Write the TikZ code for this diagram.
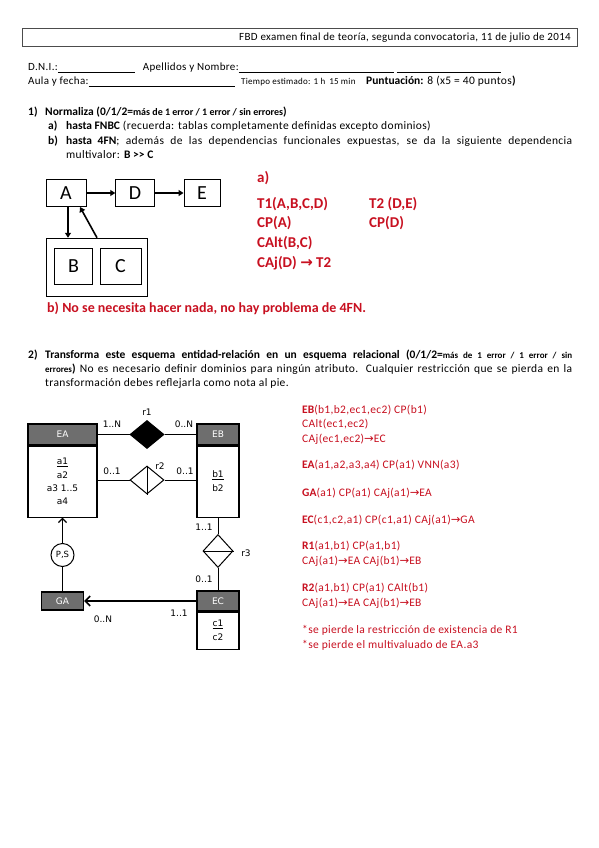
\documentclass[tikz,border=0pt]{standalone}
\usepackage{fontspec}
\setmainfont{Carlito}[UprightFeatures={LetterSpace=3}]
\newfontfamily\arrowfont{DejaVu Sans}
\newfontfamily\erfont{DejaVu Sans}
\usetikzlibrary{arrows.meta,positioning,shapes.geometric}
\definecolor{ansred}{RGB}{200,16,32}
\definecolor{hdrgray}{RGB}{110,110,110}
\newcommand{\setsz}[1]{\fontsize{#1}{#1}\selectfont}
\newcommand{\ersz}{\erfont\fontsize{9}{13.4}\selectfont}
\newcommand{\ra}{{\arrowfont\char"2192}}
\newcommand{\blank}[1]{\rule[-1.5pt]{#1}{0.5pt}}

\begin{document}
\begin{tikzpicture}[x=1pt,y=-1pt,
 txt/.style={anchor=base west,inner sep=0pt,font=\setsz{11.5}},
 ans/.style={anchor=base west,inner sep=0pt,text=ansred,font=\setsz{15}\bfseries},
 sol/.style={anchor=base west,inner sep=0pt,text=ansred,font=\setsz{11.5}},
 letbox/.style={draw,line width=1pt,minimum height=27pt,inner sep=0pt,font=\setsz{20}},
 dep/.style={-{Triangle[length=5pt,width=6pt]},line width=1.6pt},
 enthead/.style={draw,line width=1.1pt,fill=hdrgray,text=white,minimum width=69pt,minimum height=21pt,inner sep=0pt,font=\ersz},
 entbody/.style={draw,line width=1.1pt,fill=white,inner sep=0pt,align=center,font=\ersz},
 reldia/.style={diamond,draw,line width=1pt,fill=white,inner sep=0pt},
 rel/.style={line width=1pt},
 card/.style={inner sep=1pt,font=\ersz}
]
\fill[white] (0,0) rectangle (599,848);
\useasboundingbox (0,0) rectangle (599,848);

\node[draw=black!70,line width=0.6pt,minimum width=555pt,minimum height=18pt,inner sep=0pt] (head) at (299.5,37) {};
\node[txt,anchor=base east,font=\setsz{11}] (headtxt) at (571,40.5) {FBD examen final de teoría, segunda convocatoria, 11 de julio de 2014};
\node[txt,font=\setsz{11}] (dni) at (28,71) {D.N.I.:\blank{77pt}\hspace{8pt}Apellidos y Nombre:\blank{155pt}\hspace{3pt}\blank{104pt}};
\node[txt,font=\setsz{11}] (aula) at (28,85) {Aula y fecha:\blank{146pt}};
\node[txt,font=\setsz{9}] (tiempo) at (241,85) {Tiempo estimado: 1 h\hspace{4pt}15 min};
\node[txt] (punt) at (366,85) {\textbf{Puntuación:} 8 (x5 = 40 puntos\textbf{)}};

\node[txt] (q1) at (28,116) {\textbf{1)}};
\node[txt] (q1t) at (45,116) {\textbf{Normaliza (0/1/2={\setsz{10}más de 1 error / 1 error / sin errores})}};
\node[txt] (q1a) at (48,130) {\textbf{a)}};
\node[txt] (q1at) at (66,130) {\textbf{hasta FNBC} (recuerda: tablas completamente definidas excepto dominios)};
\node[txt] (q1b) at (48,144) {\textbf{b)}};
\node[txt] (q1bt) at (66,144) {\makebox[506pt][s]{\textbf{hasta 4FN}; además de las dependencias funcionales expuestas, se da la siguiente dependencia}};
\node[txt] (q1bt2) at (66,158.5) {multivalor: \textbf{B >{}> C}};

\node[letbox,minimum width=40pt] (A) at (66,193) {A};
\node[letbox,minimum width=38.5pt] (D) at (135,193) {D};
\node[letbox,minimum width=36pt] (E) at (202,193) {E};
\node[draw,line width=1pt,minimum width=100.5pt,minimum height=58.5pt,inner sep=0pt] (BC) at (97,267.5) {};
\node[letbox,minimum width=38.5pt,minimum height=36pt] (B) at (73.5,266) {B};
\node[letbox,minimum width=41pt,minimum height=36pt] (C) at (120.5,266) {C};
\draw[dep] (A) -- (D);
\draw[dep] (D) -- (E);
\draw[dep] ([xshift=2pt]A.south) -- ([xshift=2pt]A.south |- BC.north);
\draw[dep] (BC.north) -- ([xshift=14pt]A.south);

\node[ans] (aa) at (257,182) {a)};
\node[ans] (t1) at (257,208) {T1(A,B,C,D)};
\node[ans] (t2) at (369,208) {T2 (D,E)};
\node[ans] (cpa) at (257,227.5) {CP(A)};
\node[ans] (cpd) at (369,227.5) {CP(D)};
\node[ans] (calt) at (257,247) {CAlt(B,C)};
\node[ans] (caj) at (257,267) {CAj(D) \ra{} T2};
\node[ans,font=\setsz{14}\bfseries] (bb) at (47,312) {b) No se necesita hacer nada, no hay problema de 4FN.};

\node[txt] (q2) at (28,358) {\textbf{2)}};
\node[txt] (q2t) at (45,358) {\makebox[527pt][s]{\textbf{Transforma este esquema entidad-relación en un esquema relacional (0/1/2={\setsz{9}más de 1 error / 1 error / sin}}}};
\node[txt] (q2t2) at (45,372) {\makebox[527pt][s]{\textbf{{\setsz{9}errores})} No es necesario definir dominios para ningún atributo. Cualquier restricción que se pierda en la}};
\node[txt] (q2t3) at (45,386) {transformación debes reflejarla como nota al pie.};

\node[enthead] (ea) at (62.5,434.5) {EA};
\node[entbody,minimum width=69pt,minimum height=71pt,anchor=north] (eab) at (ea.south) {\underline{a1}\\a2\\a3 1..5\\a4};
\node[enthead,minimum width=42pt] (eb) at (218,434.5) {EB};
\node[entbody,minimum width=42pt,minimum height=71pt,anchor=north,font=\erfont\fontsize{9}{14}\selectfont] (ebb) at (eb.south) {\underline{b1}\\b2};
\node[enthead,minimum width=42pt,minimum height=20pt] (ec) at (218,601) {EC};
\node[entbody,minimum width=42pt,minimum height=37pt,anchor=north,font=\erfont\fontsize{9}{14}\selectfont] (ecb) at (ec.south) {\underline{c1}\\c2};
\node[enthead,minimum width=42pt,minimum height=18pt] (ga) at (62.5,601) {GA};

\node[reldia,fill=black,minimum width=34pt,minimum height=28pt] (r1) at (147,434.5) {};
\node[reldia,minimum width=34pt,minimum height=28pt] (r2) at (147,480) {};
\node[reldia,minimum width=30pt,minimum height=33pt] (r3) at (218,551) {};
\node[circle,draw,line width=1pt,fill=white,minimum size=23pt,inner sep=0pt,font=\erfont\fontsize{8.5}{10}\selectfont] (ps) at (62.5,555) {P,S};

\draw[rel] (ea) -- (r1) -- (eb);
\draw[rel] (r2.west) -- (r2.west -| eab.east);
\draw[rel] (r2.east) -- (r2.east -| ebb.west);
\draw[rel] (r2.north) -- (r2.south);
\draw[rel] (ebb) -- (r3) -- (ec);
\draw[rel] (r3.west) -- (r3.east);
\draw[line width=1.3pt] (ga) -- (ps);
\draw[line width=1.3pt,-{Straight Barb[length=4pt,width=8pt]}] (ps) -- (eab);
\draw[line width=1.6pt,-{Straight Barb[length=5pt,width=10pt]}] (ec) -- (ga);

\node[card] (r1lab) at (147,412) {r1};
\node[card] (r2lab) at (160,466) {r2};
\node[card] (r3lab) at (246,553) {r3};
\node[card] (c1n) at (112,424) {1..N};
\node[card] (c0n) at (184,424) {0..N};
\node[card] (c01a) at (112,471) {0..1};
\node[card] (c01b) at (185,471) {0..1};
\node[card] (c11a) at (204,527) {1..1};
\node[card] (c01c) at (204,579) {0..1};
\node[card] (c11b) at (179,613) {1..1};
\node[card] (c0nb) at (103,619) {0..N};

\node[sol] (s1) at (302,413.5) {\textbf{EB}(b1,b2,ec1,ec2) CP(b1)};
\node[sol] (s2) at (302,427.5) {CAlt(ec1,ec2)};
\node[sol] (s3) at (302,442.5) {CAj(ec1,ec2)\ra EC};
\node[sol] (s4) at (302,468.5) {\textbf{EA}(a1,a2,a3,a4) CP(a1) VNN(a3)};
\node[sol] (s5) at (302,496.5) {\textbf{GA}(a1) CP(a1) CAj(a1)\ra EA};
\node[sol] (s6) at (302,523.5) {\textbf{EC}(c1,c2,a1) CP(c1,a1) CAj(a1)\ra GA};
\node[sol] (s7) at (302,549.5) {\textbf{R1}(a1,b1) CP(a1,b1)};
\node[sol] (s8) at (302,564.5) {CAj(a1)\ra EA CAj(b1)\ra EB};
\node[sol] (s9) at (302,591.5) {\textbf{R2}(a1,b1) CP(a1) CAlt(b1)};
\node[sol] (s10) at (302,606.5) {CAj(a1)\ra EA CAj(b1)\ra EB};
\node[sol] (s11) at (302,633.5) {*se pierde la restricción de existencia de R1};
\node[sol] (s12) at (302,648.5) {*se pierde el multivaluado de EA.a3};
\end{tikzpicture}
\end{document}
